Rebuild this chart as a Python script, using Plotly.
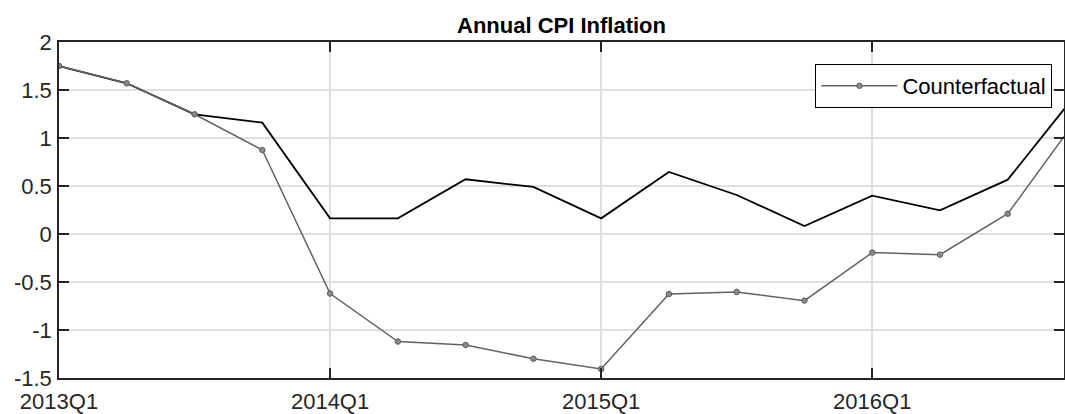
import plotly.graph_objects as go

quarters = ["2013Q1", "2013Q2", "2013Q3", "2013Q4",
            "2014Q1", "2014Q2", "2014Q3", "2014Q4",
            "2015Q1", "2015Q2", "2015Q3", "2015Q4",
            "2016Q1", "2016Q2", "2016Q3", "2016Q4"]
actual = [1.75, 1.57, 1.247, 1.16, 0.163, 0.163, 0.57, 0.49,
          0.163, 0.646, 0.406, 0.083, 0.40, 0.247, 0.566, 1.45]
counterfactual = [1.75, 1.57, 1.247, 0.875, -0.62, -1.12, -1.156, -1.30,
                  -1.406, -0.625, -0.604, -0.694, -0.194, -0.215, 0.211, 1.18]
year_ticks = ["2013Q1", "2014Q1", "2015Q1", "2016Q1"]
y_ticks = [-1.5, -1, -0.5, 0, 0.5, 1, 1.5, 2]
y_ticktext = ["-1.5", "-1", "-0.5", "0", "0.5", "1", "1.5", "2"]

xpos = list(range(len(quarters)))
tick_pos = [quarters.index(q) for q in year_ticks]

FONT = "Liberation Sans, Arial, Helvetica, sans-serif"
AX = "#262626"
FS = 22

fig = go.Figure()
fig.add_trace(go.Scatter(
    x=xpos, y=actual, mode="lines", name="Actual", showlegend=False,
    line=dict(color="#000000", width=1.8),
))
fig.add_trace(go.Scatter(
    x=xpos, y=counterfactual, mode="lines+markers", name="Counterfactual",
    line=dict(color="#636363", width=1.5),
    marker=dict(symbol="circle", size=5.5, color="#8a8a8a",
                line=dict(color="#5c5c5c", width=1)),
))

fig.update_layout(
    width=1065, height=414,
    margin=dict(l=59, r=1, t=42, b=36, autoexpand=False),
    paper_bgcolor="white", plot_bgcolor="white",
    font=dict(family=FONT, size=FS, color=AX),
    title=dict(text="<b>Annual CPI Inflation</b>", x=0.5, xref="paper",
               xanchor="center", y=1, yref="paper", yanchor="bottom",
               pad=dict(b=9),
               font=dict(family=FONT, size=FS, color="#000000")),
    showlegend=True,
    legend=dict(x=0.9885, y=1 - 22 / 336, xanchor="right", yanchor="top",
                bgcolor="white", bordercolor="#000000", borderwidth=1,
                font=dict(family=FONT, size=FS, color="#000000"),
                itemwidth=76, tracegroupgap=0),
)
fig.update_xaxes(
    range=[0, 14.83], tickmode="array", tickvals=tick_pos, ticktext=year_ticks,
    showgrid=True, gridcolor="#dfdfdf", gridwidth=1.5,
    ticks="inside", ticklen=10, tickcolor=AX, tickwidth=1.5,
    showline=True, linecolor=AX, linewidth=1.5, mirror="ticks",
    zeroline=False, tickfont=dict(size=FS, color=AX),
    automargin=False, ticklabelstandoff=3,
)
fig.update_yaxes(
    range=[-1.5, 2], tickmode="array", tickvals=y_ticks, ticktext=y_ticktext,
    showgrid=True, gridcolor="#dfdfdf", gridwidth=1.5,
    ticks="inside", ticklen=10, tickcolor=AX, tickwidth=1.5,
    showline=True, linecolor=AX, linewidth=1.5, mirror="ticks",
    zeroline=False, tickfont=dict(size=FS, color=AX),
    automargin=False, ticklabelstandoff=1,
)

fig.write_html(
    "out.html",
    config={"displayModeBar": False},
    post_script="document.body.style.margin='0';"
                "document.body.style.overflow='hidden';",
)
